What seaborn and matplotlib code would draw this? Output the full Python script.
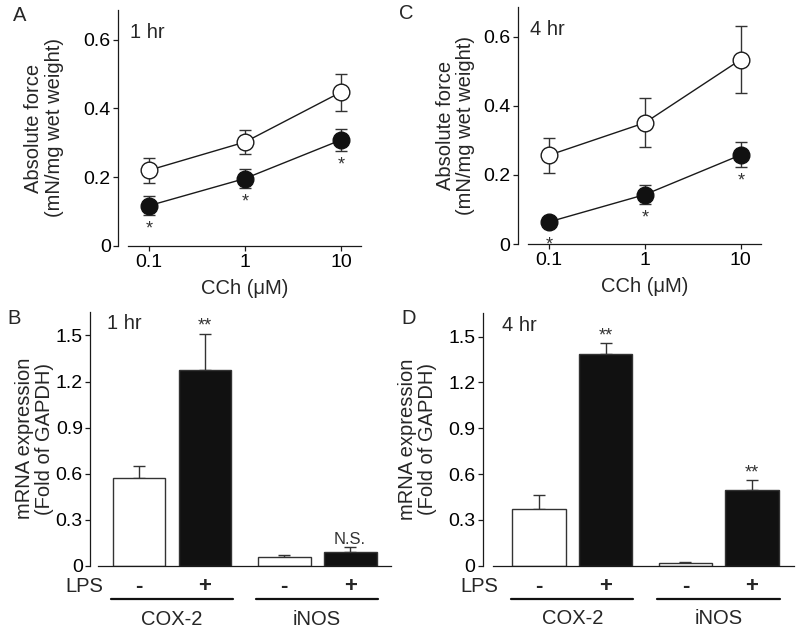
import matplotlib
matplotlib.use('Agg')
import matplotlib.pyplot as plt
import numpy as np
import seaborn as sns

# CCh dose-response, absolute force (mN/mg wet weight)
cch = [0.1, 1, 10]
force_1hr_ctrl = [0.220, 0.302, 0.447]
force_1hr_ctrl_err = [0.036, 0.035, 0.054]
force_1hr_lps = [0.117, 0.196, 0.308]
force_1hr_lps_err = [0.028, 0.028, 0.033]
force_4hr_ctrl = [0.257, 0.351, 0.534]
force_4hr_ctrl_err = [0.051, 0.071, 0.096]
force_4hr_lps = [0.064, 0.143, 0.258]
force_4hr_lps_err = [0.004, 0.027, 0.036]

# mRNA expression (fold of GAPDH)
genes = ['COX-2', 'iNOS']
lps = ['-', '+', '-', '+']
mrna_1hr = [0.574, 1.276, 0.059, 0.089]
mrna_1hr_err = [0.078, 0.235, 0.008, 0.030]
mrna_1hr_marks = ['', '**', '', 'N.S.']
mrna_4hr = [0.372, 1.385, 0.020, 0.498]
mrna_4hr_err = [0.093, 0.072, 0.006, 0.060]
mrna_4hr_marks = ['', '**', '', '**']

sns.set_style('ticks')
plt.rcParams['font.family'] = ['Liberation Sans', 'DejaVu Sans']
plt.rcParams['font.size'] = 14
INK = '#1a1a1a'

fig = plt.figure(figsize=(7.99, 6.27), dpi=100)
axA = fig.add_axes([0.1602, 0.6077, 0.2916, 0.3764])
axC = fig.add_axes([0.6608, 0.6108, 0.2916, 0.3780])
axB = fig.add_axes([0.1227, 0.0978, 0.3667, 0.4051])
axD = fig.add_axes([0.6170, 0.0978, 0.3767, 0.4030])


def style_axes(ax, offset):
    sns.despine(ax=ax)
    ax.spines['left'].set_position(('outward', offset))
    for s in ['left', 'bottom']:
        ax.spines[s].set_linewidth(0.9)
        ax.spines[s].set_color(INK)
    ax.tick_params(direction='out', length=3.5, width=0.9, color=INK,
                   pad=2, labelsize=14, labelcolor='black')


def force_panel(ax, ctrl, ctrl_err, lp, lp_err, tag, ylpad):
    ax.errorbar(cch, ctrl, yerr=ctrl_err, fmt='none', ecolor='#333333',
                elinewidth=1, capsize=4, capthick=1, zorder=2)
    ax.errorbar(cch, lp, yerr=lp_err, fmt='none', ecolor='#333333',
                elinewidth=1, capsize=4, capthick=1, zorder=2)
    sns.lineplot(x=cch, y=ctrl, ax=ax, color=INK, lw=1, marker='o',
                 markersize=12, markerfacecolor='white',
                 markeredgecolor=INK, markeredgewidth=1, zorder=3)
    sns.lineplot(x=cch, y=lp, ax=ax, color=INK, lw=1, marker='o',
                 markersize=12, markerfacecolor='#111111',
                 markeredgecolor='#111111', markeredgewidth=1, zorder=3)
    # significance stars under the LPS points
    for x, v, e in zip(cch, lp, lp_err):
        ys = min(v - e, v - 0.025) - 0.035
        ax.text(x, ys, '*', ha='center', va='center_baseline',
                fontsize=13, color='#333333')
    ax.set_xscale('log')
    ax.set_xlim(0.0605, 16.2)
    ax.set_ylim(0, 0.686)
    ax.set_xticks(cch)
    ax.set_xticklabels(['0.1', '1', '10'])
    ax.minorticks_off()
    ax.set_yticks([0, 0.2, 0.4, 0.6])
    ax.set_yticklabels(['0', '0.2', '0.4', '0.6'])
    ax.set_xlabel('CCh (\u03bcM)', fontsize=14.5, labelpad=6)
    ax.set_ylabel('Absolute force\n(mN/mg wet weight)', fontsize=14.5,
                  linespacing=1.1, labelpad=ylpad)
    ax.text(0.01, 0.905, tag, transform=ax.transAxes, ha='left',
            va='center', fontsize=14.5)
    style_axes(ax, 7)


def mrna_panel(ax, vals, errs, marks, tag, offset, xlim, ylpad):
    pos = [0, 1, 2.2, 3.2]
    sns.barplot(x=pos, y=vals, hue=lps, palette={'-': 'white', '+': '#111111'},
                dodge=False, native_scale=True, errorbar=None, legend=False,
                edgecolor='#333333', linewidth=1, ax=ax, zorder=2)
    ax.errorbar(pos, vals, yerr=[np.zeros(len(vals)), errs], fmt='none',
                ecolor='#333333', elinewidth=1, capsize=4, capthick=1,
                zorder=1)
    for x, v, e, m in zip(pos, vals, errs, marks):
        if m:
            ax.text(x, v + e + 0.02, m, ha='center', va='baseline',
                    fontsize=13 if m == '**' else 12, color='#333333')
    # LPS -/+ row and gene group lines below the axis
    tr = ax.get_xaxis_transform()
    ax.text(xlim[0] + 0.08, -0.082, 'LPS', transform=tr,
            ha='right', va='center', fontsize=14.5, clip_on=False)
    for x, s in zip(pos, lps):
        ax.text(x, -0.082, s, transform=tr, ha='center', va='center',
                fontsize=16, fontweight='bold', clip_on=False)
    for i, g in enumerate(genes):
        x0, x1 = pos[2 * i] - 0.42, pos[2 * i + 1] + 0.42
        ax.plot([x0, x1], [-0.13, -0.13], transform=tr, color='#111111',
                lw=1.6, clip_on=False)
        ax.text((x0 + x1) / 2, -0.21, g, transform=tr, ha='center',
                va='center', fontsize=14.5, clip_on=False)
    ax.set_xlim(*xlim)
    ax.set_ylim(0, 1.655)
    ax.set_yticks([0, 0.3, 0.6, 0.9, 1.2, 1.5])
    ax.set_yticklabels(['0', '0.3', '0.6', '0.9', '1.2', '1.5'])
    ax.set_xticks([])
    ax.set_xlabel('')
    ax.set_ylabel('mRNA expression\n(Fold of GAPDH)', fontsize=14.5,
                  linespacing=1.1, labelpad=ylpad)
    ax.text(0.03, 0.952, tag, transform=ax.transAxes, ha='left',
            va='center', fontsize=14.5)
    style_axes(ax, offset)
    ax.tick_params(axis='x', bottom=False)


force_panel(axA, force_1hr_ctrl, force_1hr_ctrl_err, force_1hr_lps,
            force_1hr_lps_err, '1 hr', 14)
force_panel(axC, force_4hr_ctrl, force_4hr_ctrl_err, force_4hr_lps,
            force_4hr_lps_err, '4 hr', 6)
mrna_panel(axB, mrna_1hr, mrna_1hr_err, mrna_1hr_marks, '1 hr', 5.5,
           (-0.62, 3.82), 1)
mrna_panel(axD, mrna_4hr, mrna_4hr_err, mrna_4hr_marks, '4 hr', 7,
           (-0.69, 3.83), 8)

for lab, x, y in [('A', 0.025, 0.9745), ('C', 0.509, 0.978),
                  ('B', 0.0175, 0.4928), ('D', 0.511, 0.4928)]:
    fig.text(x, y, lab, ha='center', va='center', fontsize=14.5)

fig.savefig('out.png', dpi=100, facecolor='white')
